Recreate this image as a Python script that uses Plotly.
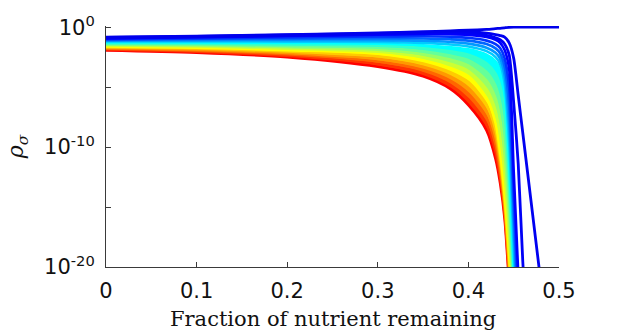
import plotly.graph_objects as go

# shared x grid (fraction of nutrient remaining)
x_grid = [0.0, 0.1, 0.2, 0.3, 0.35, 0.38, 0.40, 0.42, 0.43, 0.435, 0.44, 0.445, 0.45, 0.455, 0.46, 0.48, 0.5]

# log10(rho_sigma) for each curve (blue/top -> red/bottom)
c_top = [-0.83, -0.74, -0.62, -0.48, -0.38, -0.30, -0.25, -0.18, -0.12, -0.09, -0.05, -0.01, 0, 0, 0, 0, 0]
c_2nd = [-0.86, -0.77, -0.65, -0.51, -0.43, -0.38, -0.38, -0.50, -0.62, -0.70, -0.82, -1.30, -2.6, -5.7, -8.8, -21.3]
c_3rd = [-0.90, -0.81, -0.70, -0.57, -0.50, -0.48, -0.52, -0.68, -0.88, -1.05, -1.40, -2.30, -6.3, -11.4, -19.5, -47]
b00 = [-0.93, -0.84, -0.73, -0.62, -0.57, -0.58, -0.64, -0.82, -1.05, -1.30, -1.90, -3.50, -12.0, -20.5, -29]
b01 = [-1.00, -0.93, -0.85, -0.77, -0.76, -0.80, -0.88, -1.12, -1.41, -1.74, -2.60, -5.04, -13.6, -22.2]
b02 = [-1.06, -1.01, -0.97, -0.92, -0.94, -1.01, -1.12, -1.41, -1.77, -2.18, -3.30, -6.58, -15.2, -23.9]
b03 = [-1.13, -1.10, -1.08, -1.08, -1.13, -1.23, -1.37, -1.71, -2.13, -2.62, -4.00, -8.12, -16.8, -25.6]
b04 = [-1.19, -1.18, -1.20, -1.23, -1.31, -1.44, -1.61, -2.00, -2.49, -3.06, -4.70, -9.66, -18.4, -27.3]
b05 = [-1.26, -1.27, -1.32, -1.38, -1.50, -1.66, -1.85, -2.30, -2.85, -3.50, -5.40, -11.2, -20.0, -29]
b06 = [-1.33, -1.36, -1.44, -1.54, -1.75, -2.01, -2.30, -3.02, -3.88, -4.88, -7.12, -12.76, -21.0, -30]
b07 = [-1.40, -1.44, -1.56, -1.71, -2.00, -2.36, -2.75, -3.74, -4.91, -6.26, -8.84, -14.32, -22.0, -30]
b08 = [-1.46, -1.53, -1.67, -1.87, -2.25, -2.70, -3.20, -4.46, -5.94, -7.64, -10.56, -15.88, -23.0, -30]
b09 = [-1.53, -1.61, -1.79, -2.04, -2.50, -3.05, -3.65, -5.18, -6.97, -9.02, -12.28, -17.44, -24.0, -30]
b10 = [-1.60, -1.70, -1.91, -2.20, -2.75, -3.40, -4.10, -5.90, -8.00, -10.40, -14.0, -19.0, -25.0, -30]
b11 = [-1.67, -1.78, -2.03, -2.42, -3.02, -3.75, -4.58, -6.44, -8.60, -10.92, -14.4, -19.5, -25.4, -30]
b12 = [-1.73, -1.87, -2.15, -2.64, -3.29, -4.10, -5.06, -6.98, -9.20, -11.44, -14.8, -20.0, -25.8, -30]
b13 = [-1.80, -1.95, -2.26, -2.86, -3.56, -4.45, -5.54, -7.52, -9.80, -11.96, -15.2, -20.5, -26.2, -30]
b14 = [-1.86, -2.04, -2.38, -3.08, -3.83, -4.80, -6.02, -8.06, -10.40, -12.48, -15.6, -21.0, -26.6, -30]
b15 = [-1.93, -2.12, -2.50, -3.30, -4.10, -5.15, -6.50, -8.60, -11.00, -13.00, -16.0, -21.5, -27.0, -30]

special_curves = [c_top, c_2nd, c_3rd]
band_curves = [b00, b01, b02, b03, b04, b05, b06, b07, b08, b09, b10, b11, b12, b13, b14, b15]

x_ticks = [0, 0.1, 0.2, 0.3, 0.4, 0.5]
x_tick_text = ["0", "0.1", "0.2", "0.3", "0.4", "0.5"]
y_ticks = [1e-20, 1e-10, 1e0]
y_tick_text = ["10<sup>-20</sup>", "10<sup>-10</sup>", "10<sup>0</sup>"]
y_minor_ticks = [1e-15, 1e-5]


def jet(u):
    def seg(v):
        return max(0.0, min(1.0, v))
    r = seg(min(4 * u - 1.5, -4 * u + 4.5))
    g = seg(min(4 * u - 0.5, -4 * u + 3.5))
    b = seg(min(4 * u + 0.5, -4 * u + 2.5))
    return "rgb(%d,%d,%d)" % (round(r * 255), round(g * 255), round(b * 255))


fig = go.Figure()

nb = len(band_curves)
FILL_FROM = 5  # dense part of the family (cyan..red) appears as a continuous band

# band: red first, blue last
for i in range(nb - 1, -1, -1):
    vals = band_curves[i]
    col = jet(0.125 + 0.75 * i / (nb - 1))
    xs = x_grid[:len(vals)]
    ys = [10 ** v for v in vals]
    fill = "tonexty" if (i >= FILL_FROM and i < nb - 1) else "none"
    fig.add_trace(go.Scatter(x=xs, y=ys, mode="lines",
                             line=dict(color=col, width=2.6, shape="spline", smoothing=0.8),
                             fill=fill, fillcolor=col,
                             showlegend=False, hoverinfo="skip"))

for j in range(len(special_curves) - 1, -1, -1):
    vals = special_curves[j]
    col = jet(0.105 + 0.006 * j)
    xs = x_grid[:len(vals)]
    ys = [10 ** v for v in vals]
    fig.add_trace(go.Scatter(x=xs, y=ys, mode="lines",
                             line=dict(color=col, width=2.8, shape="spline", smoothing=0.6),
                             showlegend=False, hoverinfo="skip"))

axis_col = "#3a3a3a"
fig.update_xaxes(range=[0, 0.5], tickvals=x_ticks, ticktext=x_tick_text,
                 ticks="inside", ticklen=5, tickcolor=axis_col, tickwidth=1,
                 showline=True, linecolor=axis_col, linewidth=1,
                 showgrid=False, zeroline=False, ticklabelstandoff=5,
                 tickfont=dict(family="DejaVu Sans", size=21, color="#111111"))
fig.update_yaxes(type="log", range=[-20, 0.1], tickvals=y_ticks, ticktext=y_tick_text,
                 ticks="inside", ticklen=5, tickcolor=axis_col, tickwidth=1,
                 minor=dict(tickvals=y_minor_ticks, ticks="inside", ticklen=5,
                            tickcolor=axis_col, tickwidth=1, showgrid=False),
                 showline=True, linecolor=axis_col, linewidth=1,
                 showgrid=False, zeroline=False, ticklabelstandoff=6,
                 tickfont=dict(family="DejaVu Sans", size=21, color="#111111"))

fig.update_layout(
    width=617, height=336,
    margin=dict(l=106, r=58, t=24, b=69),
    paper_bgcolor="white", plot_bgcolor="white",
    annotations=[
        dict(text="Fraction of nutrient remaining", xref="paper", yref="paper",
             x=0.5, y=-0.215, xanchor="center", yanchor="middle", showarrow=False,
             font=dict(family="DejaVu Serif", size=21, color="#111111")),
        dict(text="<i>ρ<sub>σ</sub></i>", xref="paper", yref="paper",
             x=-0.195, y=0.5, xanchor="center", yanchor="middle", showarrow=False,
             textangle=-90,
             font=dict(family="DejaVu Serif", size=22, color="#111111")),
    ],
)

fig.write_html("out.html", config={"displayModeBar": False},
               post_script="document.body.style.margin='0px';")
